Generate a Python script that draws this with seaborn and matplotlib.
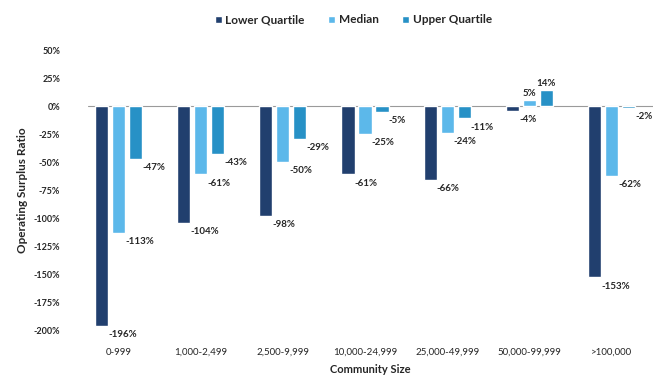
import numpy as np
import pandas as pd
import matplotlib.pyplot as plt
import seaborn as sns

# ---------------------------------------------------------------------------
# Data
# ---------------------------------------------------------------------------

sizes = ["0-999", "1,000-2,499", "2,500-9,999", "10,000-24,999",
         "25,000-49,999", "50,000-99,999", ">100,000"]
series = ["Lower Quartile", "Median", "Upper Quartile"]
lower = [-196, -104, -98, -61, -66, -4, -153]
median = [-113, -61, -50, -25, -24, 5, -62]
upper = [-47, -43, -29, -5, -11, 14, -2]
y_ticks = [50, 25, 0, -25, -50, -75, -100, -125, -150, -175, -200]

colors = ["#213f6e", "#5cb8ea", "#2791c6"]

df = pd.DataFrame({
    "size": sizes * 3,
    "series": np.repeat(series, len(sizes)),
    "value": lower + median + upper,
})

# ---------------------------------------------------------------------------
# Plot
# ---------------------------------------------------------------------------

sns.set_style("white")
plt.rcParams["font.family"] = ["Lato", "DejaVu Sans"]

fig = plt.figure(figsize=(6.66, 3.79), dpi=100)
ax = fig.add_axes([0.132, 0.129, 0.848, 0.739])

sns.barplot(data=df, x="size", y="value", hue="series", order=sizes,
            hue_order=series, palette=colors, width=0.62, gap=0.22,
            saturation=1, ax=ax)

ax.axhline(0, color="#9a9a9a", linewidth=0.8, zorder=0)

# value labels next to each bar end
for cont in ax.containers:
    for bar in cont:
        v = bar.get_height()
        x = bar.get_x() + bar.get_width()
        if v >= 0:
            ax.annotate(f"{v:.0f}%", (bar.get_x() + bar.get_width() / 2, v),
                        xytext=(0, 2), textcoords="offset points",
                        ha="center", va="bottom", fontsize=7, fontweight="bold")
        else:
            ax.annotate(f"{v:.0f}%", (x, v), xytext=(0, -3),
                        textcoords="offset points", ha="left", va="top",
                        fontsize=7, fontweight="bold")

ax.set_ylim(-200, 50)
ax.set_xlim(-0.37, 6.5)
ax.set_yticks(y_ticks)
ax.set_yticklabels([f"{t}%" for t in y_ticks], fontsize=6.5, fontweight="bold")
ax.tick_params(axis="x", labelsize=7, pad=13, length=0)
ax.tick_params(axis="y", length=0, pad=20)
ax.set_xlabel("Community Size", fontsize=8, fontweight="bold", labelpad=5)
ax.set_ylabel("Operating Surplus Ratio", fontsize=8.5, fontweight="bold")
sns.despine(ax=ax, left=True, bottom=True)

ax.legend(loc="upper center", bbox_to_anchor=(0.47, 1.165), ncol=3,
          frameon=False, handlelength=0.6, handleheight=0.6,
          columnspacing=2.0, handletextpad=0.3,
          prop={"weight": "bold", "size": 8.5})

fig.savefig("out.png", dpi=100)
